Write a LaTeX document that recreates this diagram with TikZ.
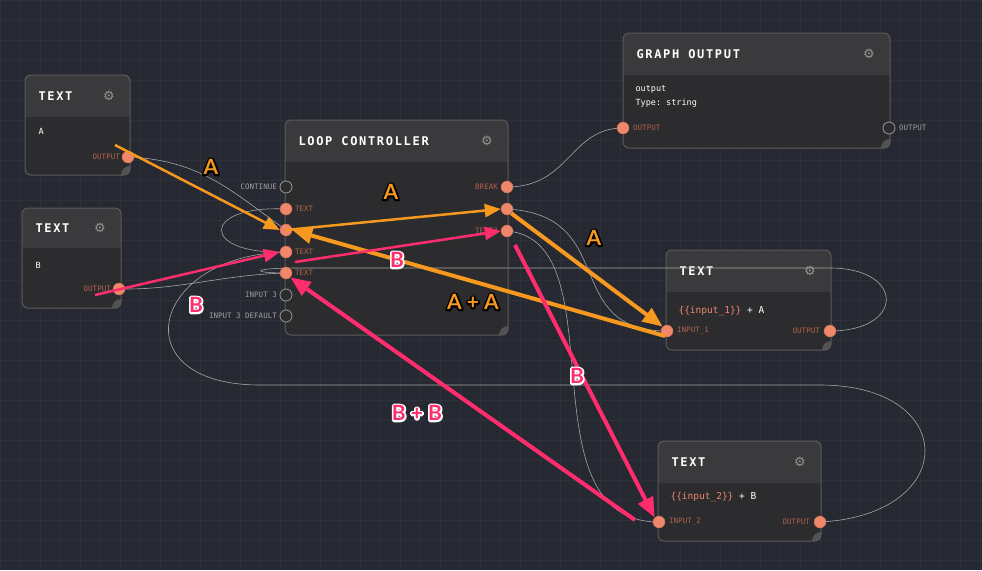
\documentclass[tikz,border=0pt]{standalone}
\usepackage{fontspec}
\setmainfont{Lato}
\setmonofont{DejaVu Sans Mono}
\newfontfamily\symfont{DejaVu Sans}
\usetikzlibrary{arrows.meta,fit}
\definecolor{bg}{HTML}{262932}
\definecolor{bodyc}{HTML}{2C2C2E}
\definecolor{hdrc}{HTML}{3A3A3C}
\definecolor{edgec}{HTML}{5A5A5C}
\definecolor{portc}{HTML}{F0876A}
\definecolor{plabel}{HTML}{B0624C}
\definecolor{orng}{HTML}{F7991F}
\definecolor{pink}{HTML}{FF2D6E}

\tikzstyle{port}=[circle,fill=portc,draw=portc!80!black,minimum size=12pt,inner sep=0pt]
\tikzstyle{idle port}=[circle,fill=bodyc,draw=gray!80,thick,minimum size=12pt,inner sep=0pt]
\tikzstyle{plab}=[font=\ttfamily\fontsize{7.5}{8}\selectfont,text=plabel,inner sep=2pt]
\tikzstyle{glab}=[font=\ttfamily\fontsize{7.5}{8}\selectfont,text=gray!75,inner sep=2pt]
\tikzstyle{title}=[font=\ttfamily\bfseries\fontsize{12}{13}\selectfont,text=white!92,anchor=west]
\tikzstyle{wire}=[draw=gray!70,line width=0.6pt]
\tikzstyle{note}=[line width=4pt,-{Triangle[length=20pt,width=16pt]}]
\tikzstyle{thin note}=[line width=2.5pt,-{Triangle[length=16pt,width=13pt]}]
\tikzstyle{weight}=[font=\bfseries\fontsize{21}{22}\selectfont]

% outlined text: stroke colour, text
\newcommand{\outl}[2]{\rlap{\special{pdf:literal direct 1 Tr 3.5 w 1 j #1 RG}#2\special{pdf:literal direct 0 Tr}}#2}

% panel: name, x1, y1, x2, y2, header bottom, title
\newcommand{\panel}[7]{%
  \path[fill=hdrc,rounded corners=6pt] (#2,#3) rectangle (#4,#5);
  \fill[bodyc] (#2,#6) {[rounded corners=6pt] -- (#2,#5) -- (#4,#5)} -- (#4,#6) -- cycle;
  \begin{scope}
    \clip[rounded corners=6pt] (#2,#3) rectangle (#4,#5);
    \fill[gray!45!bodyc] (#4,#5) circle (9);
  \end{scope}
  \node[draw=edgec,line width=1pt,rounded corners=6pt,inner sep=0pt,
        fit={(#2,#3) (#4,#5)}] (#1) {};
  \node[title] at (#2+10,{(#3+#6)/2}) {\addfontfeatures{LetterSpace=14}#7};
  \node[text=gray!85,font=\symfont\fontsize{13}{14}\selectfont] at (#4-21,{(#3+#6)/2}) {⚙};
}

\begin{document}
\begin{tikzpicture}[x=1pt,y=-1pt]
\fill[bg] (0,0) rectangle (982,570);
\useasboundingbox (0,0) rectangle (982,570);
\foreach \i in {0,20,...,980} {\draw[white!4!bg,line width=0.4pt] (\i,0) -- (\i,570);}
\foreach \i in {0,20,...,560} {\draw[white!4!bg,line width=0.4pt] (0,\i) -- (982,\i);}

\panel{ta}{25}{75}{130}{175}{117}{TEXT}
\panel{tb}{22}{208}{121}{308}{248}{TEXT}
\panel{lc}{285}{120}{508}{335}{162}{LOOP CONTROLLER}
\panel{go}{623}{33}{890}{148}{75}{GRAPH OUTPUT}
\panel{t1}{666}{250}{831}{350}{292}{TEXT}
\panel{t2}{658}{441}{821}{541}{483}{TEXT}

% body texts
\node[anchor=west,font=\ttfamily\fontsize{8.5}{9}\selectfont,text=white!85] at (35,131) {A};
\node[anchor=west,font=\ttfamily\fontsize{8.5}{9}\selectfont,text=white!85] at (32,265) {B};
\node[anchor=west,font=\ttfamily\fontsize{8.5}{14}\selectfont,text=white!85,align=left] at (632,96) {output\\Type: string};
\node[anchor=west,font=\ttfamily\fontsize{9.5}{10}\selectfont] at (675,311) {\textcolor{portc}{\{\{input\_1\}\}} \textcolor{white!80}{+ A}};
\node[anchor=west,font=\ttfamily\fontsize{9.5}{10}\selectfont] at (667,497) {\textcolor{portc}{\{\{input\_2\}\}} \textcolor{white!80}{+ B}};

% wires (drawn under ports)
\path[wire] (128,157) .. controls (200,160) and (230,190) .. (286,230);
\path[wire] (286,209) .. controls (200,205) and (200,255) .. (286,252);
\path[wire] (507,187) .. controls (570,187) and (570,128) .. (623,128);
\path[wire] (507,209) .. controls (620,215) and (560,331) .. (667,331);
\path[wire] (507,231) .. controls (620,240) and (520,522) .. (659,522);
\path[wire] (830,331) .. controls (905,331) and (905,268) .. (830,268) -- (300,268) .. controls (250,268) and (250,273) .. (286,273);
\path[wire] (820,522) .. controls (960,515) and (960,385) .. (820,385) -- (260,385) .. controls (120,385) and (150,255) .. (286,252);
\path[wire] (119,289) .. controls (180,290) and (220,275) .. (286,273);

% ports
\node[port] (ta-out) at (128,157) {};
\node[plab,anchor=east] at (122,157) {OUTPUT};
\node[port] (tb-out) at (119,289) {};
\node[plab,anchor=east] at (113,289) {OUTPUT};
\foreach \name/\y/\kind in {cont/187/idle port, txa/209/port, lp/230/port, txb/252/port,
    txc/273/port, inc/295/idle port, incd/316/idle port}{
  \node[\kind] (lc-\name) at (286,\y) {};
}
\node[glab,anchor=east] at (279,187) {CONTINUE};
\node[plab,anchor=west] at (293,209) {TEXT};
\node[plab,anchor=west] at (293,252) {TEXT};
\node[plab,anchor=west] at (293,273) {TEXT};
\node[glab,anchor=east] at (279,295) {INPUT 3};
\node[glab,anchor=east] at (279,316) {INPUT 3 DEFAULT};
\foreach \name/\y in {brk/187, lpo/209, txq/231}{
  \node[port] (lc-\name) at (507,\y) {};
}
\node[plab,anchor=east] at (500,187) {BREAK};
\node[plab,anchor=east] at (500,231) {TEXT?};
\node[port] (go-in) at (623,128) {};
\node[plab,anchor=west] at (631,128) {OUTPUT};
\node[idle port] (go-out) at (889,128) {};
\node[glab,anchor=west] at (897,128) {OUTPUT};
\node[port] (t1-in) at (667,331) {};
\node[plab,anchor=west] at (675,331) {INPUT\_1};
\node[port] (t1-out) at (830,331) {};
\node[plab,anchor=east] at (822,331) {OUTPUT};
\node[port] (t2-in) at (659,522) {};
\node[plab,anchor=west] at (667,522) {INPUT\_2};
\node[port] (t2-out) at (820,522) {};
\node[plab,anchor=east] at (812,522) {OUTPUT};

% annotation arrows
\coordinate (a0) at (115,145);
\coordinate (b0) at (95,295);
\coordinate (b1) at (295,262);
\coordinate (b2) at (515,245);
\coordinate (b3) at (635,520);
\coordinate (a3) at (665,336);
\draw[thin note,orng] (a0) -- (lc-lp.west);
\draw[thin note,orng] (lc-lp.center) -- (lc-lpo.west);
\draw[note,orng] (lc-lpo.south east) -- (t1-in.north west);
\draw[note,orng] (a3) -- (lc-lp.east);
\draw[thin note,pink] (b0) -- (lc-txb.west);
\draw[thin note,pink] (b1) -- (lc-txq.west);
\draw[note,pink] (b2) -- (t2-in.north west);
\draw[note,pink] (b3) -- (lc-txc.south east);

\node[weight,text=orng] (wa1) at (211,167) {\outl{0 0 0}{A}};
\node[weight,text=orng] (wa2) at (391,192) {\outl{0 0 0}{A}};
\node[weight,text=orng] (wa3) at (594,238) {\outl{0 0 0}{A}};
\node[weight,text=orng] (wa4) at (473,302) {\outl{0 0 0}{A + A}};
\node[weight,text=pink] (wb1) at (196,305) {\outl{1 1 1}{B}};
\node[weight,text=pink] (wb2) at (397,260) {\outl{1 1 1}{B}};
\node[weight,text=pink] (wb3) at (577,376) {\outl{1 1 1}{B}};
\node[weight,text=pink] (wb4) at (417,413) {\outl{1 1 1}{B + B}};
\end{tikzpicture}
\end{document}
